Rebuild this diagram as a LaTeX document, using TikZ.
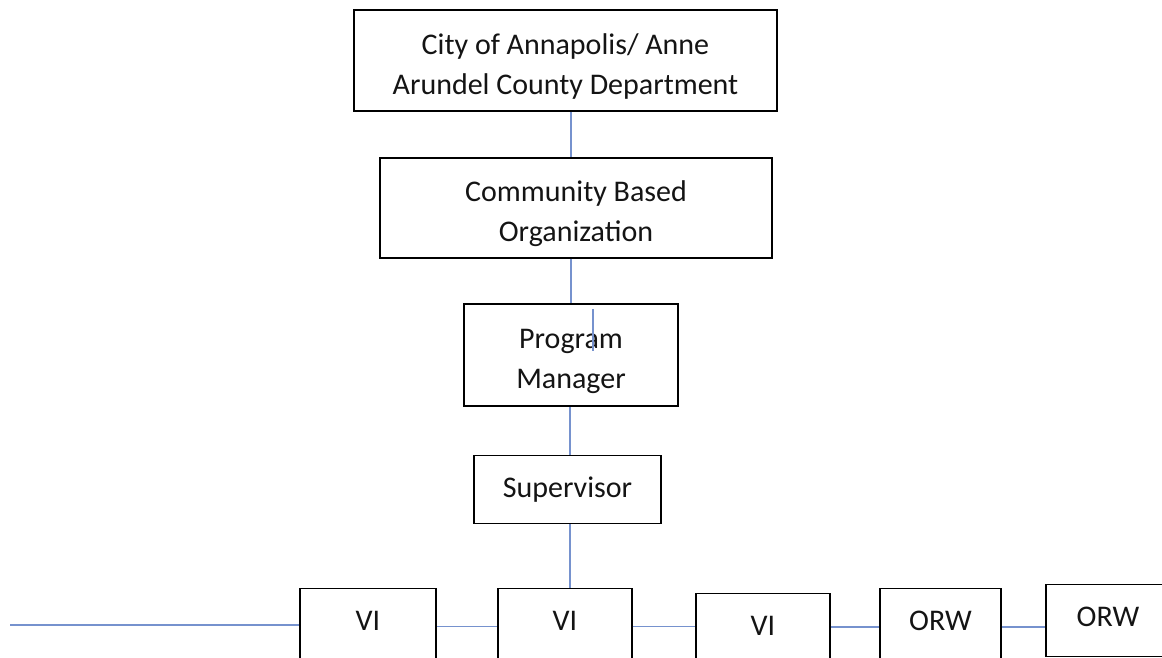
\documentclass[tikz,border=0pt]{standalone}
\usepackage{fontspec}
\setmainfont{Carlito}
\usepackage{tikz}
\usetikzlibrary{positioning}

\definecolor{linkblue}{RGB}{118,146,206}
\definecolor{inkgray}{RGB}{20,20,20}

\newcommand{\toppad}{\rule{0pt}{32pt}}

\begin{document}
\begin{tikzpicture}[
    x=1pt, y=-1pt,
    node distance=45.5pt and 60.4pt,
    box/.style={draw=black, line width=1.6pt, inner sep=0pt, align=center, text=inkgray,
                font=\fontsize{30}{40}\selectfont},
    rowbox/.style={box, minimum height=0pt, text height=42pt, text depth=80pt},
    link/.style={draw=linkblue, line width=1.5pt},
]

\clip (0,0) rectangle (1162,658);

\node (city) [box, minimum width=423pt, minimum height=101pt] at (565.5,60.5)
    {\toppad City of Annapolis/ Anne\\Arundel County Department};
\node (cbo)  [box, minimum width=392pt, minimum height=100pt, below=45.5pt of city, xshift=10.5pt]
    {\toppad Community Based\\Organization};
\node (pm)   [box, minimum width=214pt, minimum height=102pt, below=44.5pt of cbo, xshift=-5pt]
    {\toppad Program\\Manager};
\node (sup)  [box, minimum width=187pt, minimum height=68pt, below=47.5pt of pm, xshift=-3.5pt]
    {Supervisor};

\node (vi2)  [rowbox, minimum width=134pt, below=63.5pt of sup, xshift=-2.5pt] {VI};
\node (vi1)  [rowbox, minimum width=136pt, left=60.4pt of vi2] {VI};
\node (vi3)  [rowbox, minimum width=134pt, right=62.4pt of vi2, yshift=-5pt] {VI};
\node (orw1) [rowbox, minimum width=121pt, right=48.4pt of vi3, yshift=5pt] {ORW};
\node (orw2) [rowbox, minimum width=124pt, text depth=30pt,
              below right=-4pt and 43.4pt of orw1.north east] {ORW};

\coordinate (feed) at (10,625);

\draw[link] (city.south -| pm.north) -- (cbo.north -| pm.north);
\draw[link] (cbo.south -| pm.north) -- (pm.north);
\draw[link] ([xshift=-1pt]pm.south) -- ([xshift=-1pt]pm.south |- sup.north);
\draw[link] ([xshift=2.5pt]sup.south) -- ([xshift=2.5pt]sup.south |- vi2.north);

\draw[link] (feed) -- (feed -| vi1.west);
\draw[link] ([yshift=4pt]vi1.base east) -- ([yshift=4pt]vi1.base east -| vi2.west);
\draw[link] ([yshift=4pt]vi2.base east) -- ([yshift=4pt]vi2.base east -| vi3.west);
\draw[link] ([yshift=8.5pt]vi3.base east) -- ([yshift=8.5pt]vi3.base east -| orw1.west);
\draw[link] ([yshift=3.5pt]orw1.base east) -- ([yshift=3.5pt]orw1.base east -| orw2.west);

% stray mark inside the manager box
\draw[link] ([xshift=22pt, yshift=-6pt]pm.north) -- ([xshift=22pt, yshift=-48pt]pm.north);

\end{tikzpicture}
\end{document}
